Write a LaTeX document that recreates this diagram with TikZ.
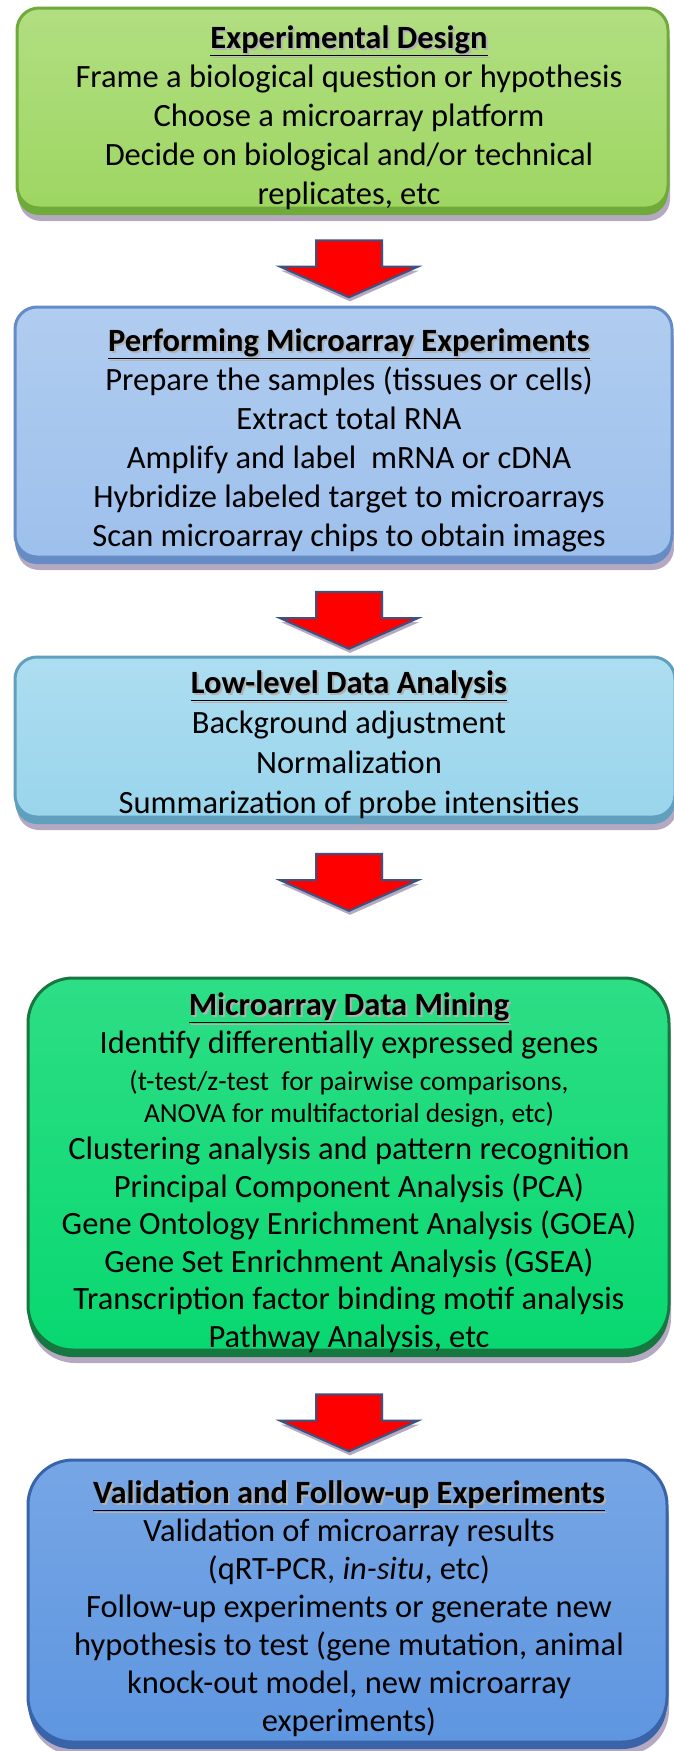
\documentclass[tikz,border=0pt]{standalone}
\usepackage{fontspec}
\setmainfont{Carlito}
\usetikzlibrary{shapes.arrows,shadows}
\definecolor{designfill}{RGB}{158,214,98}
\definecolor{designedge}{RGB}{112,170,58}
\definecolor{performfill}{RGB}{157,192,236}
\definecolor{performedge}{RGB}{102,140,198}
\definecolor{lowfill}{RGB}{153,213,236}
\definecolor{lowedge}{RGB}{96,160,190}
\definecolor{miningfill}{RGB}{8,216,112}
\definecolor{miningedge}{RGB}{22,120,64}
\definecolor{validfill}{RGB}{94,150,224}
\definecolor{validedge}{RGB}{58,100,170}
\definecolor{shadowcol}{RGB}{92,66,120}
\definecolor{arrowedge}{RGB}{58,84,130}
\newcommand{\boxtitle}[1]{\makebox[0pt][l]{\hspace{2pt}\raisebox{-2pt}{\color{black!30}\underline{\textbf{#1}}}}\underline{\textbf{#1}}}
\tikzset{
panel/.style={rounded corners=22pt, line width=3pt, inner sep=0pt, draw=#1, % the coloured boxes
  general shadow={shadow yshift=-13pt, shadow xshift=2pt, fill=shadowcol, opacity=0.45},
  general shadow={shadow yshift=-7pt, fill=#1}}, % bevel at the bottom
bigpanel/.style={panel=#1, rounded corners=45pt}, % the two lower boxes are rounder
body/.style={align=center, inner sep=0pt, font=\fontsize{32.5}{39}\selectfont}, % text of a box
downarrow/.style={single arrow, shape border rotate=270, draw=arrowedge, line width=2pt,
  fill=red, inner sep=0pt, minimum height=57pt, minimum width=136pt,
  single arrow head extend=36pt, single arrow tip angle=132,
  general shadow={shadow xshift=1pt, shadow yshift=-4pt, fill=shadowcol, opacity=0.45}},
}
\begin{document}
\begin{tikzpicture}[x=1pt,y=-1pt]
\useasboundingbox[fill=white] (0,0) rectangle (673,1751);

\node[panel=designedge, top color=designfill!80!white, bottom color=designfill,
  minimum width=651pt, minimum height=200pt] (design) at (342.5,108) {};
\node[body] (design-txt) at (349,117.5) {\boxtitle{Experimental Design}\\
Frame a biological question or hypothesis\\
Choose a microarray platform\\
Decide on biological and/or technical\\
replicates, etc};

\node[panel=performedge, top color=performfill!80!white, bottom color=performfill,
  minimum width=657pt, minimum height=250pt] (perform) at (343.5,432) {};
\node[body] (perform-txt) at (349,440.5) {\boxtitle{Performing Microarray Experiments}\\
Prepare the samples (tissues or cells)\\
Extract total RNA\\
Amplify and label \ mRNA or cDNA\\
Hybridize labeled target to microarrays\\
Scan microarray chips to obtain images};

\node[panel=lowedge, top color=lowfill!80!white, bottom color=lowfill,
  minimum width=660pt, minimum height=160pt] (lowlevel) at (345,737) {};
\node[body, font=\fontsize{32.5}{40}\selectfont] (lowlevel-txt) at (349,745) {\boxtitle{Low-level Data Analysis}\\
Background adjustment\\
Normalization\\
Summarization of probe intensities};

\node[bigpanel=miningedge, top color=miningfill!85!white, bottom color=miningfill,
  minimum width=641pt, minimum height=372pt] (mining) at (348.5,1164) {};
\node[body, font=\fontsize{32.5}{37.5}\selectfont] (mining-txt) at (349,1172.5) {\boxtitle{Microarray Data Mining}\\
Identify differentially expressed genes\\
{\fontsize{27.5}{31}\selectfont (t-test/z-test \ for pairwise comparisons,}\\[-6pt]
{\fontsize{27.5}{31}\selectfont ANOVA for multifactorial design, etc)}\\
Clustering analysis and pattern recognition\\
Principal Component Analysis (PCA)\\
Gene Ontology Enrichment Analysis (GOEA)\\
Gene Set Enrichment Analysis (GSEA)\\
Transcription factor binding motif analysis\\
Pathway Analysis, etc};

\node[bigpanel=validedge, top color=validfill!85!white, bottom color=validfill,
  minimum width=639pt, minimum height=282pt] (validation) at (347.5,1601) {};
\node[body, font=\fontsize{32.5}{38}\selectfont] (validation-txt) at (349,1608.5) {\boxtitle{Validation and Follow-up Experiments}\\
Validation of microarray results\\
(qRT-PCR, \textit{in-situ}, etc)\\
Follow-up experiments or generate new\\
hypothesis to test (gene mutation, animal\\
knock-out model, new microarray\\
experiments)};

\node[downarrow] (arr1) at (349,261.5) {\hspace*{64pt}};
\node[downarrow] (arr2) at (349,613) {\hspace*{64pt}};
\node[downarrow] (arr3) at (349,875) {\hspace*{64pt}};
\node[downarrow] (arr4) at (349,1415.5) {\hspace*{64pt}};

\end{tikzpicture}
\end{document}
